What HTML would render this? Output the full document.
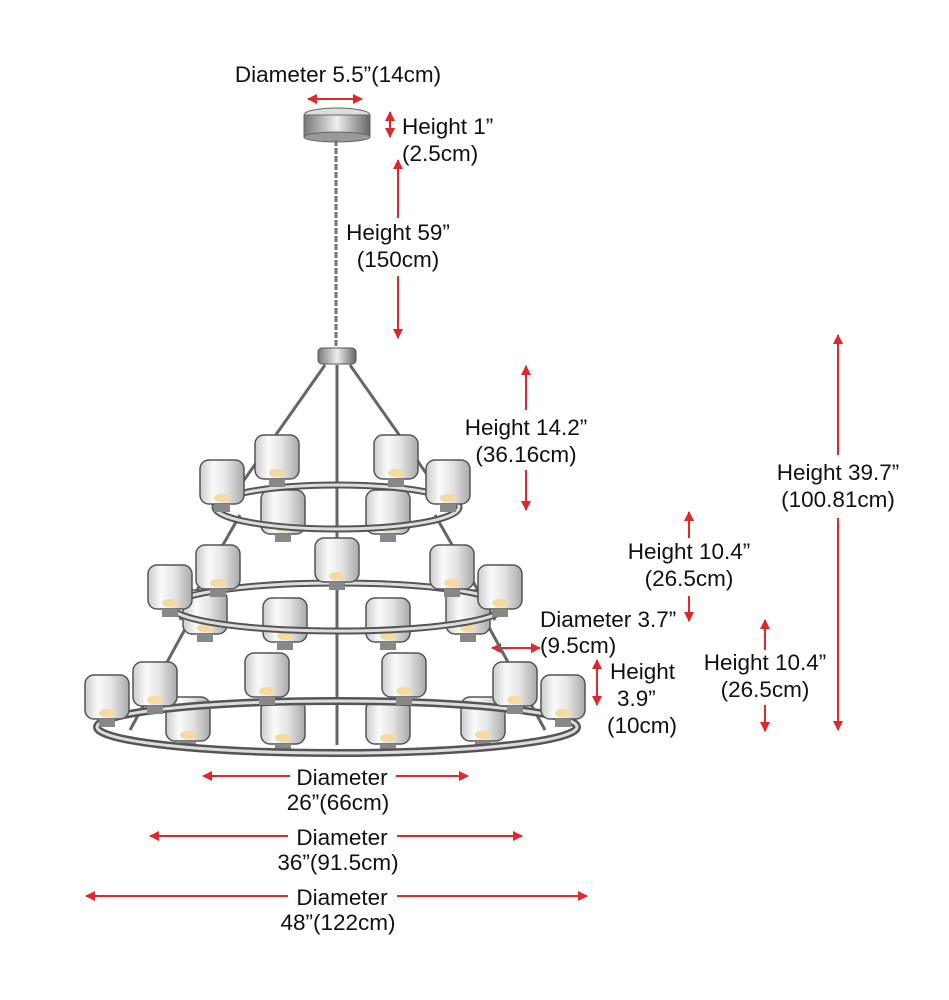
<!DOCTYPE html>
<html><head><meta charset="utf-8"><style>
html,body{margin:0;padding:0;background:#fff;}
svg{display:block}
text{font-family:"Liberation Sans",Arial,sans-serif;font-size:22.5px;fill:#111;}
</style></head><body>
<svg width="949" height="1000" viewBox="0 0 949 1000" xmlns="http://www.w3.org/2000/svg">
<defs>
<marker id="ah" viewBox="0 0 10 10" refX="9" refY="5" markerWidth="5" markerHeight="5" orient="auto-start-reverse"><path d="M0,0 L10,5 L0,10 z" fill="#e3262a"/></marker>
<linearGradient id="chrome" x1="0" x2="1"><stop offset="0" stop-color="#777"/><stop offset="0.5" stop-color="#eee"/><stop offset="1" stop-color="#666"/></linearGradient>
<linearGradient id="glass" x1="0" x2="1"><stop offset="0" stop-color="#ccc"/><stop offset="0.3" stop-color="#fafafa"/><stop offset="0.6" stop-color="#e4e4e4"/><stop offset="1" stop-color="#aaa"/></linearGradient>
<g id="shade"><rect x="-22" y="0" width="44" height="44" rx="9" fill="url(#glass)" stroke="#555" stroke-width="1.5"/><rect x="-8" y="44" width="16" height="8" fill="#888"/><ellipse cx="0" cy="38" rx="8" ry="4" fill="#f5d9a0"/></g>
</defs>
<g stroke="#e3262a" stroke-width="2" fill="none">
<line x1="308" y1="99" x2="362" y2="99" marker-start="url(#ah)" marker-end="url(#ah)"/>
<line x1="390" y1="112" x2="390" y2="137" marker-start="url(#ah)" marker-end="url(#ah)"/>
<line x1="398" y1="218" x2="398" y2="160" marker-end="url(#ah)"/>
<line x1="398" y1="276" x2="398" y2="338" marker-end="url(#ah)"/>
<line x1="526" y1="410" x2="526" y2="366" marker-end="url(#ah)"/>
<line x1="526" y1="470" x2="526" y2="510" marker-end="url(#ah)"/>
<line x1="838" y1="455" x2="838" y2="335" marker-end="url(#ah)"/>
<line x1="838" y1="518" x2="838" y2="730" marker-end="url(#ah)"/>
<line x1="689" y1="538" x2="689" y2="512" marker-end="url(#ah)"/>
<line x1="689" y1="596" x2="689" y2="621" marker-end="url(#ah)"/>
<line x1="492" y1="648" x2="540" y2="648" marker-start="url(#ah)" marker-end="url(#ah)"/>
<line x1="597" y1="660" x2="597" y2="705" marker-start="url(#ah)" marker-end="url(#ah)"/>
<line x1="765" y1="650" x2="765" y2="620" marker-end="url(#ah)"/>
<line x1="765" y1="705" x2="765" y2="731" marker-end="url(#ah)"/>
<line x1="290" y1="776" x2="203" y2="776" marker-end="url(#ah)"/>
<line x1="396" y1="776" x2="468" y2="776" marker-end="url(#ah)"/>
<line x1="288" y1="836" x2="150" y2="836" marker-end="url(#ah)"/>
<line x1="397" y1="836" x2="522" y2="836" marker-end="url(#ah)"/>
<line x1="288" y1="896" x2="86" y2="896" marker-end="url(#ah)"/>
<line x1="397" y1="896" x2="587" y2="896" marker-end="url(#ah)"/>
</g>
<ellipse cx="337" cy="115" rx="33" ry="7" fill="#ddd" stroke="#666"/>
<rect x="304" y="115" width="66" height="22" fill="url(#chrome)" stroke="#666"/>
<ellipse cx="337" cy="137" rx="33" ry="5" fill="#999" stroke="#666"/>
<line x1="336" y1="140" x2="336" y2="350" stroke="#777" stroke-width="3" stroke-dasharray="6,2"/>
<rect x="318" y="348" width="38" height="16" rx="4" fill="url(#chrome)" stroke="#555"/>
<g stroke="#666" stroke-width="3">
<line x1="325" y1="365" x2="230" y2="500"/><line x1="350" y1="365" x2="445" y2="500"/>
<line x1="337" y1="365" x2="337" y2="745"/>
<line x1="240" y1="515" x2="180" y2="620"/><line x1="435" y1="515" x2="495" y2="620"/>
<line x1="190" y1="620" x2="130" y2="730"/><line x1="485" y1="620" x2="545" y2="730"/>
</g>
<use href="#shade" x="283" y="490"/><use href="#shade" x="388" y="490"/>
<ellipse cx="337" cy="507" rx="122" ry="22" fill="none" stroke="#555" stroke-width="7"/>
<ellipse cx="337" cy="507" rx="122" ry="22" fill="none" stroke="#ddd" stroke-width="3"/>
<use href="#shade" x="277" y="435"/><use href="#shade" x="396" y="435"/>
<use href="#shade" x="222" y="460"/><use href="#shade" x="448" y="460"/>
<use href="#shade" x="285" y="598"/><use href="#shade" x="388" y="598"/>
<use href="#shade" x="205" y="590"/><use href="#shade" x="468" y="590"/>
<ellipse cx="338" cy="607" rx="166" ry="24" fill="none" stroke="#555" stroke-width="7"/>
<ellipse cx="338" cy="607" rx="166" ry="24" fill="none" stroke="#ddd" stroke-width="3"/>
<use href="#shade" x="337" y="538"/>
<use href="#shade" x="218" y="545"/><use href="#shade" x="452" y="545"/>
<use href="#shade" x="170" y="565"/><use href="#shade" x="500" y="565"/>
<use href="#shade" x="283" y="700"/><use href="#shade" x="388" y="700"/>
<use href="#shade" x="188" y="697"/><use href="#shade" x="483" y="697"/>
<ellipse cx="337" cy="727" rx="240" ry="26" fill="none" stroke="#555" stroke-width="8"/>
<ellipse cx="337" cy="727" rx="240" ry="26" fill="none" stroke="#ddd" stroke-width="3"/>
<use href="#shade" x="267" y="653"/><use href="#shade" x="404" y="653"/>
<use href="#shade" x="155" y="662"/><use href="#shade" x="515" y="662"/>
<use href="#shade" x="107" y="675"/><use href="#shade" x="563" y="675"/>
<text x="338" y="82" text-anchor="middle">Diameter 5.5”(14cm)</text>
<text x="402" y="134">Height 1”</text>
<text x="402" y="161">(2.5cm)</text>
<text x="398" y="240" text-anchor="middle">Height 59”</text>
<text x="398" y="267" text-anchor="middle">(150cm)</text>
<text x="526" y="435" text-anchor="middle">Height 14.2”</text>
<text x="526" y="462" text-anchor="middle">(36.16cm)</text>
<text x="838" y="480" text-anchor="middle">Height 39.7”</text>
<text x="838" y="507" text-anchor="middle">(100.81cm)</text>
<text x="689" y="559" text-anchor="middle">Height 10.4”</text>
<text x="689" y="586" text-anchor="middle">(26.5cm)</text>
<text x="540" y="627">Diameter 3.7”</text>
<text x="540" y="653">(9.5cm)</text>
<text x="610" y="679">Height</text>
<text x="617" y="706">3.9”</text>
<text x="607" y="733">(10cm)</text>
<text x="765" y="670" text-anchor="middle">Height 10.4”</text>
<text x="765" y="697" text-anchor="middle">(26.5cm)</text>
<text x="342" y="785" text-anchor="middle">Diameter</text>
<text x="338" y="810" text-anchor="middle">26”(66cm)</text>
<text x="342" y="845" text-anchor="middle">Diameter</text>
<text x="338" y="870" text-anchor="middle">36”(91.5cm)</text>
<text x="342" y="905" text-anchor="middle">Diameter</text>
<text x="338" y="930" text-anchor="middle">48”(122cm)</text>
</svg>
</body></html>
